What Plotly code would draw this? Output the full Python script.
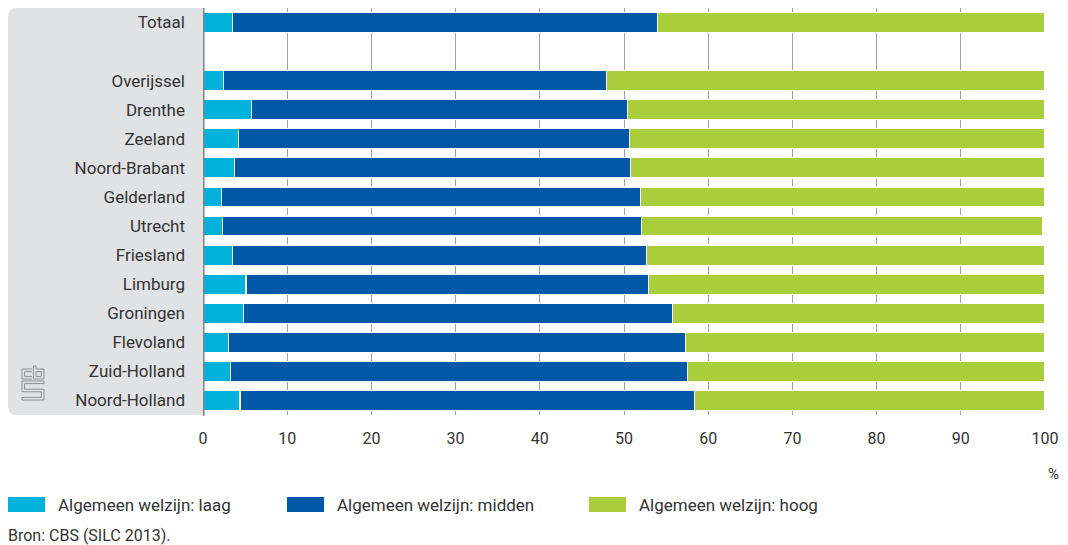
import plotly.graph_objects as go

# ---- data ----
categories = ["Totaal", "Overijssel", "Drenthe", "Zeeland", "Noord-Brabant", "Gelderland",
              "Utrecht", "Friesland", "Limburg", "Groningen", "Flevoland", "Zuid-Holland",
              "Noord-Holland"]
spacer = " "
laag = [3.5, 2.4, 5.8, 4.2, 3.7, 2.2, 2.3, 3.5, 5.1, 4.8, 3.0, 3.3, 4.4]
midden = [50.5, 45.5, 44.6, 46.5, 47.1, 49.8, 49.8, 49.2, 47.8, 51.0, 54.3, 54.2, 54.0]
hoog = [46.0, 52.1, 49.6, 49.3, 49.2, 48.0, 47.6, 47.3, 47.1, 44.2, 42.7, 42.5, 41.6]
series_names = ["Algemeen welzijn: laag", "Algemeen welzijn: midden", "Algemeen welzijn: hoog"]
x_ticks = list(range(0, 101, 10))
source_text = "Bron: CBS (SILC 2013)."
unit_text = "%"

# ---- style ----
colors = ["#00b2db", "#0058a6", "#a9cd3b"]
FONT = "Roboto"
TXT = "#333333"
W, H = 1068, 545
ML, MR, MT, MB = 203, 23, 8, 130
PW, PH = W - ML - MR, H - MT - MB


def px(x):
    return (x - ML) / PW


def py(y):
    return (H - MB - y) / PH


fig = go.Figure()
for name, vals, col in zip(series_names, [laag, midden, hoog], colors):
    fig.add_trace(go.Bar(
        y=categories, x=vals, name=name, orientation="h",
        marker=dict(color=col, line=dict(color="white", width=1.2)),
        width=0.69, showlegend=False,
    ))

cat_order = [categories[0], spacer] + categories[1:]

shapes = []
# grey label panel with rounded left corners
r = 9
panel = (f"M{px(203)},{py(8)} L{px(8 + r)},{py(8)} Q{px(8)},{py(8)} {px(8)},{py(8 + r)} "
         f"L{px(8)},{py(415 - r)} Q{px(8)},{py(415)} {px(8 + r)},{py(415)} L{px(203)},{py(415)} Z")
shapes.append(dict(type="path", path=panel, xref="paper", yref="paper",
                   fillcolor="#e1e2e4", line=dict(width=0), layer="below"))

# axis line at zero
shapes.append(dict(type="line", xref="x", yref="paper", x0=0, x1=0, y0=py(416), y1=py(8),
                   line=dict(color="#808285", width=3)))

# small CBS logo (outline drawing)
ox, oy = 22, 366
logo_paths = [
    "M10,3 L0,3 L0,13 L10,13",
    "M10,5.6 L2.6,5.6 L2.6,10.4 L10,10.4",
    "M11.4,0 L14,0 L14,3 L22,3 L22,13 L11.4,13 Z",
    "M14,5.6 L19.4,5.6 L19.4,10.4 L14,10.4 Z",
    "M22,15 L0,15 L0,25.8 L19.4,25.8 L19.4,31.4 L0,31.4 L0,34 L22,34 L22,23.2 "
    "L2.6,23.2 L2.6,17.6 L22,17.6 Z",
]


def tr(path):
    out = []
    for tok in path.split():
        if "," in tok:
            c = tok[0] if tok[0].isalpha() else ""
            xs, ys = tok.lstrip("MLQZ").split(",")
            out.append(f"{c}{px(ox + float(xs))},{py(oy + float(ys))}")
        else:
            out.append(tok)
    return " ".join(out)


for p in logo_paths:
    shapes.append(dict(type="path", path=tr(p), xref="paper", yref="paper",
                       line=dict(color="#8d8f91", width=1), fillcolor="rgba(0,0,0,0)"))

annotations = []
# custom legend
legend_x = [8, 287, 589]
for lx, name, col in zip(legend_x, series_names, colors):
    shapes.append(dict(type="rect", xref="paper", yref="paper",
                       x0=px(lx), x1=px(lx + 37), y0=py(512), y1=py(497),
                       fillcolor=col, line=dict(width=0)))
    annotations.append(dict(x=px(lx + 48), y=py(505), xref="paper", yref="paper",
                            text=name, showarrow=False, xanchor="left", yanchor="middle",
                            font=dict(family=FONT, size=17, color=TXT)))

annotations.append(dict(x=px(6), y=py(535), xref="paper", yref="paper", text=source_text,
                        showarrow=False, xanchor="left", yanchor="middle",
                        font=dict(family=FONT, size=16, color=TXT)))
annotations.append(dict(x=px(1053), y=py(474), xref="paper", yref="paper", text=unit_text,
                        showarrow=False, xanchor="center", yanchor="middle",
                        font=dict(family=FONT, size=15, color=TXT)))

fig.update_layout(
    width=W, height=H,
    margin=dict(l=ML, r=MR, t=MT, b=MB),
    barmode="stack",
    plot_bgcolor="white", paper_bgcolor="white",
    font=dict(family=FONT, size=16, color=TXT),
    shapes=shapes, annotations=annotations,
    xaxis=dict(range=[0, 100], tickvals=x_ticks, showgrid=True, gridcolor="#a0a0a0",
               gridwidth=1, zeroline=False, showline=False, ticks="",
               ticklabelstandoff=12, tickfont=dict(size=16, color=TXT)),
    yaxis=dict(categoryorder="array", categoryarray=cat_order, range=[13.5, -0.5],
               showgrid=False, zeroline=False, showline=False, ticks="",
               ticklabelstandoff=17, tickfont=dict(size=17, color=TXT)),
)

fig.write_html("out.html", config={"displayModeBar": False},
               post_script="document.body.style.margin='0';document.body.style.padding='0';")
